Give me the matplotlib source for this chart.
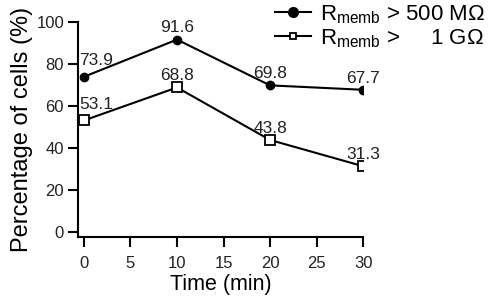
import matplotlib
matplotlib.use('Agg')
import matplotlib.pyplot as plt

plt.rcParams['font.family'] = ['Liberation Sans', 'DejaVu Sans']
plt.rcParams['mathtext.fontset'] = 'custom'
plt.rcParams['mathtext.rm'] = 'Liberation Sans'

# data
time_min = [0, 10, 20, 30]
pct_500M = [73.9, 91.6, 69.8, 67.7]
pct_1G = [53.1, 68.8, 43.8, 31.3]
labels = [r'R$_{\mathrm{memb}}$ > 500 MΩ', r'R$_{\mathrm{memb}}$ >     1 GΩ']
x_ticks = [0, 5, 10, 15, 20, 25, 30]
y_ticks = [0, 20, 40, 60, 80, 100]

fig = plt.figure(figsize=(4.9, 3.05), dpi=100)
ax = fig.add_axes([0.159, 0.223, 0.582, 0.705])

ax.plot(time_min, pct_500M, color='black', lw=1.5, marker='o', ms=6,
        mfc='black', label=labels[0])
ax.plot(time_min, pct_1G, color='black', lw=1.5, marker='s', ms=6.5,
        mfc='white', mew=1.3, label=labels[1])

# value labels above each point
for series in (pct_500M, pct_1G):
    for t, v in zip(time_min, series):
        if t == 0:
            off = (9, 6)
        else:
            off = (0, 3)
        ax.annotate(f'{v:.1f}', (t, v), xytext=off, textcoords='offset points',
                    ha='center', va='bottom', fontsize=12.5, color='#222222')

ax.set_xlim(-0.65, 30)
ax.set_ylim(-2.4, 100)
ax.set_xticks(x_ticks)
ax.set_yticks(y_ticks)
ax.spines['top'].set_visible(False)
ax.spines['right'].set_visible(False)
for s in ('left', 'bottom'):
    ax.spines[s].set_linewidth(1.5)
ax.tick_params(direction='out', length=7, width=1.5, labelsize=12,
               labelcolor='#222222')
ax.tick_params(axis='y', pad=3)
ax.tick_params(axis='x', pad=7)

ax.set_xlabel('Time (min)', fontsize=15.5, labelpad=2)
ax.set_ylabel('Percentage of cells (%)', fontsize=17, labelpad=2)

leg = fig.legend(loc='upper right', bbox_to_anchor=(1.03, 1.055), frameon=False,
                 fontsize=16, handlelength=1.6, handletextpad=0.4, labelspacing=0.05)
leg.legend_handles[0].set_markersize(7)
leg.legend_handles[1].set_markersize(5)

fig.savefig('out.png', dpi=100)
